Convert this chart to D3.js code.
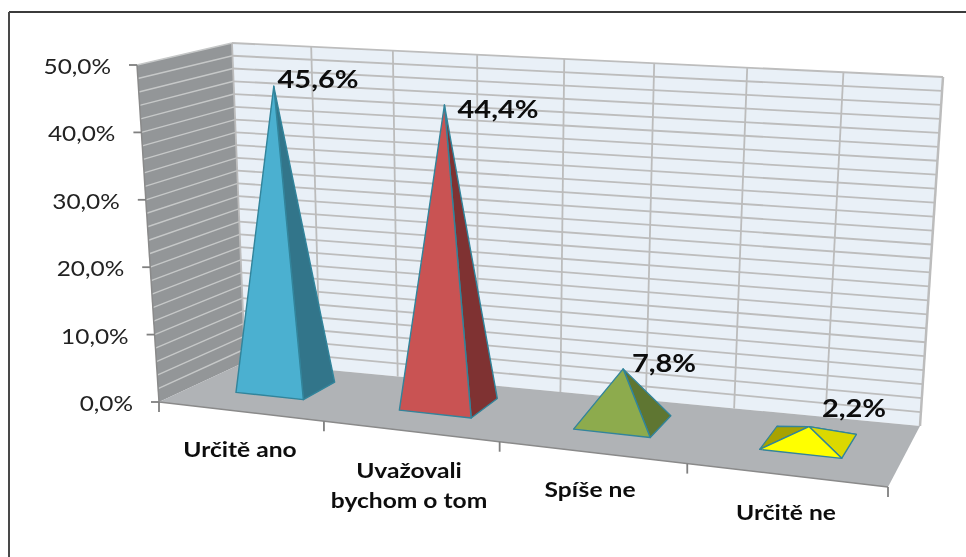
<!DOCTYPE html>
<html><head><meta charset="utf-8"><script src="https://cdn.jsdelivr.net/npm/d3@7"></script>
<style>html,body{margin:0;background:#fff}svg{display:block}text{font-family:Lato,sans-serif}</style></head>
<body><svg id="c" width="966" height="557"></svg>
<script>
const categories=[["Určitě ano"],["Uvažovali","bychom o tom"],["Spíše ne"],["Určitě ne"]];
const values=[45.6,44.4,7.8,2.2];
const valueLabels=["45,6%","44,4%","7,8%","2,2%"];
const tickValues=[0,10,20,30,40,50];
const tickLabels=["0,0%","10,0%","20,0%","30,0%","40,0%","50,0%"];
const minorTicks=d3.range(2,50.01,2);
const backDivisions=d3.range(0,9,1);
const faceColors=[["#4bb0d0","#33758a"],["#c95352","#7f3331"],["#8dab4d","#5f7632"],["#ffff00","#dcd800","#a8a200"]];

// perspective box: u across, w depth, value upward
const corners={fb:[[159,402],[888,487]],bb:[[245,362],[920,426]],ft:[[137,65],[900,119]],bt:[[232,43],[943,77]]};
const persp=1.14;
const warp=u=>u/(u+(1-u)*persp);
const mix=(a,b,t)=>[a[0]+(b[0]-a[0])*t,a[1]+(b[1]-a[1])*t];
const y=d3.scaleLinear().domain([0,50]).range([0,1]);
const x=d3.scaleBand().domain(d3.range(4)).range([0,1]).paddingInner(.58).paddingOuter(.29);
const pt=(u,w,v)=>{const t=warp(u),e=k=>mix(corners[k][0],corners[k][1],t);
  return mix(mix(e("fb"),e("bb"),w),mix(e("ft"),e("bt"),w),y(v));};

const svg=d3.select("#c"),line=d3.line();
const root=svg.append("g").attr("filter","url(#soft)");
svg.append("filter").attr("id","soft").attr("x","-2%").attr("y","-2%").attr("width","104%").attr("height","104%")
  .append("feGaussianBlur").attr("stdDeviation",.45);
const poly=(pts,fill,stroke,sw)=>root.append("path").attr("d",line(pts)+"Z").attr("fill",fill).attr("stroke",stroke||"none").attr("stroke-width",sw||0).attr("stroke-linejoin","round");
const seg=(a,b,c,w)=>root.append("line").attr("x1",a[0]).attr("y1",a[1]).attr("x2",b[0]).attr("y2",b[1]).attr("stroke",c).attr("stroke-width",w);
const label=(px,py,str,size,weight,sx,anchor,fill)=>root.append("text").attr("transform",`translate(${px},${py}) scale(${sx},1)`)
  .attr("text-anchor",anchor).attr("font-size",size).attr("font-weight",weight).attr("fill",fill).text(str);

seg([9,12],[966,12],"#3a3a3a",2);
seg([9,12],[9,557],"#4a4a4a",2);

poly([pt(0,1,0),pt(1,1,0),pt(1,1,50),pt(0,1,50)],"#e9f0f7");
poly([pt(0,0,0),pt(0,1,0),pt(0,1,50),pt(0,0,50)],"#939698");
minorTicks.forEach(v=>{seg(pt(0,1,v),pt(1,1,v),"#bdbdbd",1.8);seg(pt(0,0,v),pt(0,1,v),"#c6c8c8",1.4);});
backDivisions.forEach(i=>seg(pt(i/8,1,0),pt(i/8,1,50),"#bcbcbc",i==8?2.5:1.8));
poly([pt(0,0,0),pt(1,0,0),pt(1,1,0),pt(0,1,0)],"#b0b3b6");

seg(pt(0,0,0),pt(0,0,50),"#8a8a8a",1.5);
seg(pt(0,0,0),pt(1,0,0),"#8a8a8a",1.5);
tickValues.forEach((v,i)=>{const p=pt(0,0,v);seg([p[0]-8,p[1]],p,"#808080",1.8);
  label(p[0]-26,p[1]+9,tickLabels[i],20.5,400,1.19,"end","#222");});
d3.range(5).forEach(i=>{const p=pt(i/4,0,0);seg(p,[p[0],p[1]+10],"#808080",1.8)});

const w0=.366,w1=.77;
values.forEach((v,i)=>{
  const u0=x(i),u1=x(i)+x.bandwidth(),c=(u0+u1)/2,wc=(w0+w1)/2;
  const fl=pt(u0,w0,0),fr=pt(u1,w0,0),br=pt(u1,w1,0),bl=pt(u0,w1,0),apex=pt(c,wc,v),col=faceColors[i],st="#31849b";
  if(col[2]){poly([bl,br,apex],col[2],st,1.2);poly([bl,fl,apex],col[2],st,1.2);}
  poly([fr,br,apex],col[1],st,1.4);
  poly([fl,fr,apex],col[0],st,1.4);
});

const labelPos=[[318,88],[498,118],[664,372],[854,417]];
values.forEach((v,i)=>label(labelPos[i][0],labelPos[i][1],valueLabels[i],25,700,1.16,"middle","#0a0a0a"));
const catPos=[[240,457],[409,478],[590,497],[786,520]];
categories.forEach((c,i)=>c.forEach((s,j)=>label(catPos[i][0],catPos[i][1]+j*30,s,20,700,1.23,"middle","#111")));
</script></body></html>
